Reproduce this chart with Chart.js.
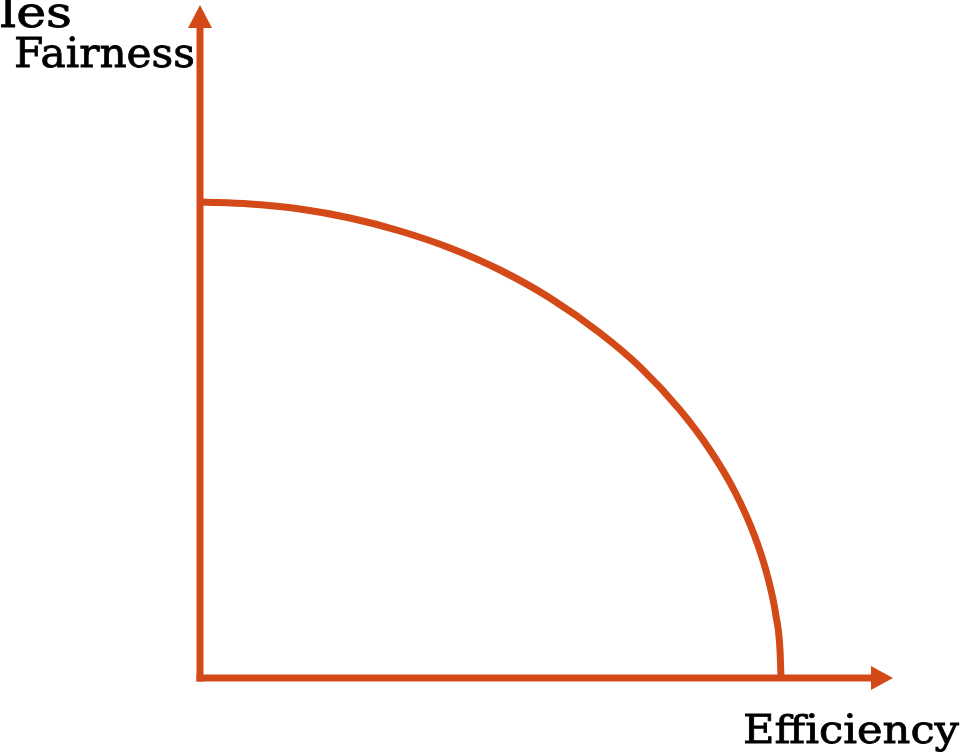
<!DOCTYPE html>
<html>
<head>
<meta charset="utf-8">
<script src="https://cdn.jsdelivr.net/npm/chart.js@4/dist/chart.umd.min.js"></script>
<style>
  html, body { margin: 0; padding: 0; background: #ffffff; }
  #wrap { width: 963px; height: 754px; position: relative; }
</style>
</head>
<body>
<div id="wrap"><canvas id="c" width="963" height="754"></canvas></div>
<script>
// Frontier points (x: efficiency, y: fairness)
const frontierX = [0, 50, 100, 150, 200, 250, 300, 350, 400, 440, 480, 510, 535, 555, 568, 576, 580, 581];
const frontierY = [476, 474, 469, 460, 447, 430, 408, 380, 345, 311, 268, 228, 186, 141, 100, 62, 28, 0];
const axisLabels = { x: "Efficiency", y: "Fairness", topCut: "les" };
const xMax = 693;
const yMax = 673;

const ORANGE = "rgb(211,74,24)";
const FONT = "'DejaVu Serif', serif";

const points = frontierX.map((x, i) => ({ x: x, y: frontierY[i] }));

function drawFitText(ctx, text, left, baseline, size, width) {
  ctx.save();
  ctx.font = size + "px " + FONT;
  const w = ctx.measureText(text).width;
  const sx = width / w;
  ctx.translate(left, baseline);
  ctx.scale(sx, 1);
  ctx.textAlign = "left";
  ctx.textBaseline = "alphabetic";
  ctx.fillStyle = "#000000";
  ctx.strokeStyle = "#000000";
  ctx.lineWidth = 0.8;
  ctx.fillText(text, 0, 0);
  ctx.strokeText(text, 0, 0);
  ctx.restore();
}

const axesPlugin = {
  id: "arrowAxes",
  beforeDatasetsDraw(chart) {
    const ctx = chart.ctx;
    const xs = chart.scales.x, ys = chart.scales.y;
    const x0 = xs.getPixelForValue(0), y0 = ys.getPixelForValue(0);
    const xEnd = xs.getPixelForValue(xMax), yEnd = ys.getPixelForValue(yMax);
    ctx.save();
    ctx.strokeStyle = ORANGE;
    ctx.fillStyle = ORANGE;
    ctx.lineWidth = 7;
    ctx.lineCap = "square";
    ctx.beginPath();
    ctx.moveTo(x0, y0);
    ctx.lineTo(x0, yEnd + 22);
    ctx.stroke();
    ctx.beginPath();
    ctx.moveTo(x0, y0);
    ctx.lineTo(xEnd - 22, y0);
    ctx.stroke();
    ctx.beginPath();
    ctx.moveTo(x0, yEnd);
    ctx.lineTo(x0 - 12, yEnd + 23);
    ctx.lineTo(x0 + 12, yEnd + 23);
    ctx.closePath();
    ctx.fill();
    ctx.beginPath();
    ctx.moveTo(xEnd, y0);
    ctx.lineTo(xEnd - 22, y0 - 12);
    ctx.lineTo(xEnd - 22, y0 + 12);
    ctx.closePath();
    ctx.fill();
    ctx.restore();
  },
  afterDraw(chart) {
    const ctx = chart.ctx;
    drawFitText(ctx, axisLabels.topCut, 0, 27, 42, 72);
    drawFitText(ctx, axisLabels.y, 14, 67, 41, 181);
    drawFitText(ctx, axisLabels.x, 743, 743, 40, 216);
  }
};

new Chart(document.getElementById("c"), {
  type: "scatter",
  data: {
    datasets: [{
      data: points,
      showLine: true,
      borderColor: ORANGE,
      backgroundColor: ORANGE,
      borderWidth: 7,
      pointRadius: 0,
      cubicInterpolationMode: "monotone",
      fill: false,
      clip: false
    }]
  },
  options: {
    responsive: false,
    animation: false,
    events: [],
    layout: { padding: { left: 200, right: 70, top: 5, bottom: 76 } },
    plugins: { legend: { display: false }, tooltip: { enabled: false } },
    scales: {
      x: { type: "linear", min: 0, max: xMax, display: false },
      y: { type: "linear", min: 0, max: yMax, display: false }
    }
  },
  plugins: [axesPlugin]
});
</script>
</body>
</html>
